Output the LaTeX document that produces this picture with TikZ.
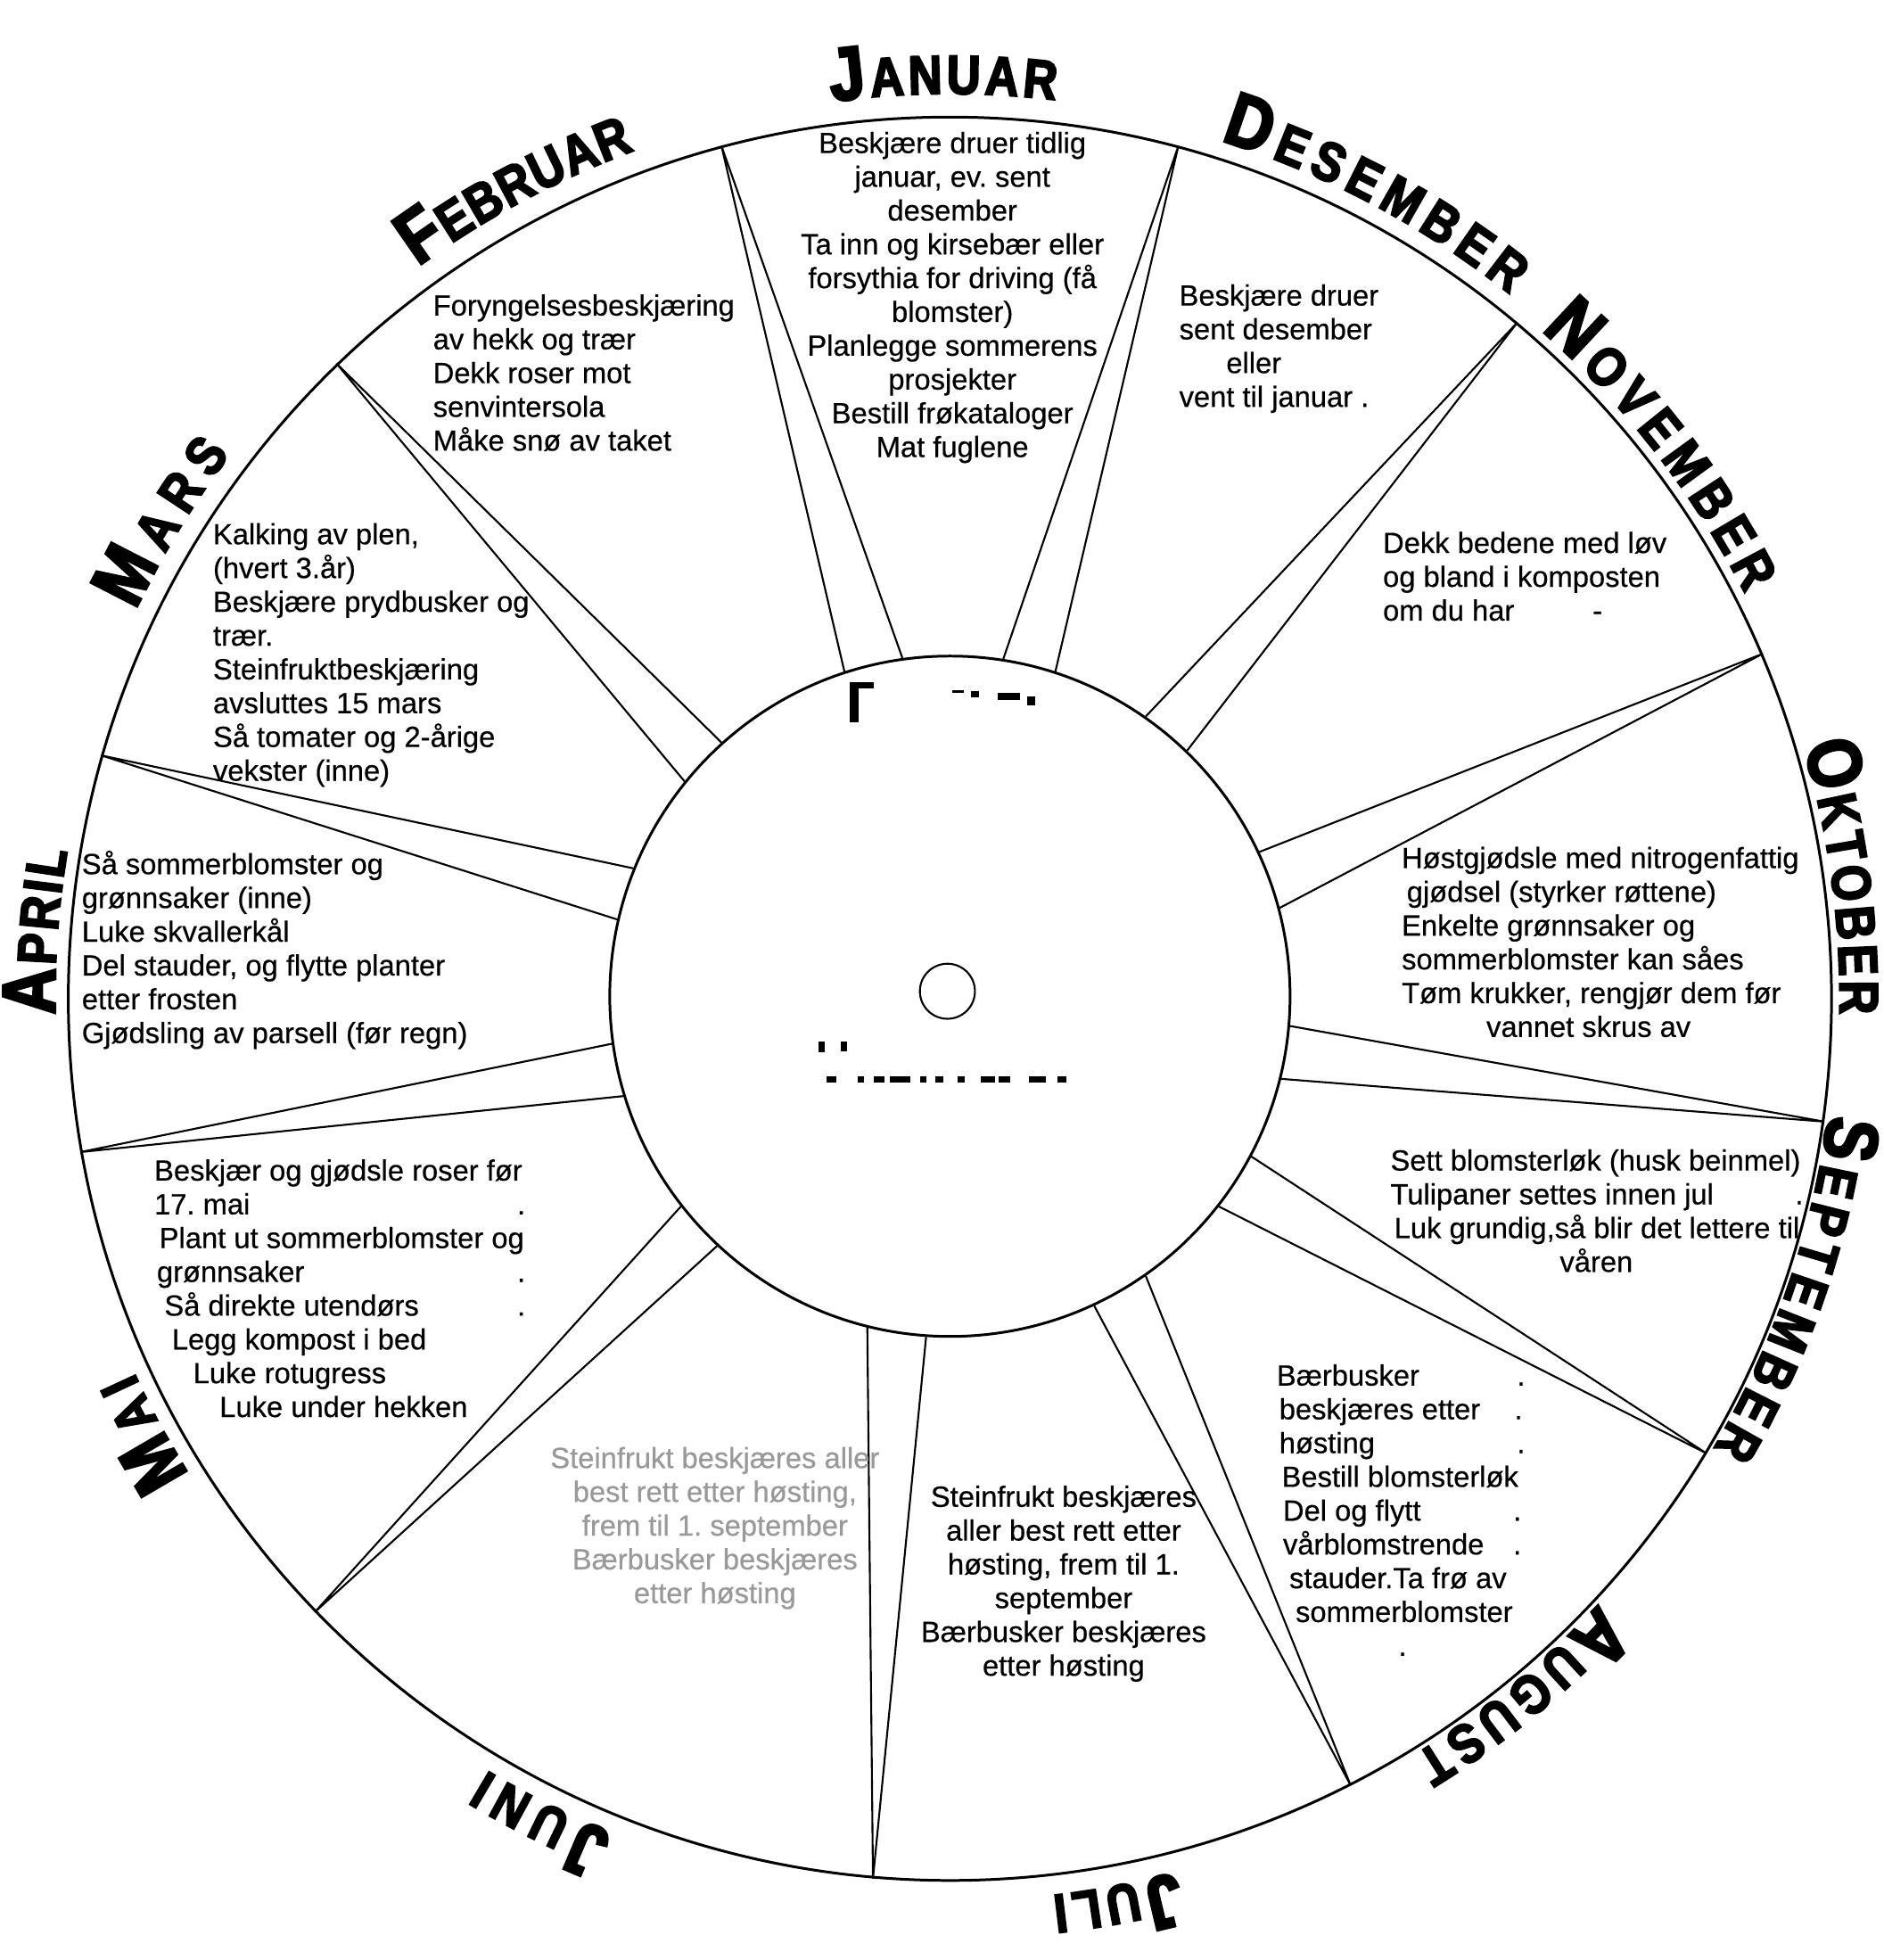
\documentclass[tikz,border=0pt]{standalone}
\usepackage{fontspec}
\setmainfont{Liberation Sans}[FakeBold=0.5]
\newfontfamily\monthfont{Liberation Sans}[FakeStretch=0.85, FakeBold=3.5]
\usetikzlibrary{calc, decorations.text}

\newcommand\tasks{\fontsize{9.3}{10.77}\selectfont\frenchspacing}
\newcommand\capbig{\monthfont\bfseries\fontsize{24}{24}\selectfont}
\newcommand\capsmall{\monthfont\bfseries\fontsize{17.5}{17.5}\selectfont}

\tikzset{
  wheel/.style   = {circle, draw, line width=0.85pt, inner sep=0pt},
  spoke/.style   = {line width=0.6pt},
  task/.style    = {font=\tasks, inner sep=0pt, align=left, anchor=north west},
  taskmid/.style = {task, align=center, anchor=north},
  worn/.style    = {text=black!40},
  month/.style   = {decorate, decoration={text along path, text={#1},
                    text align={fit to path}}},
}

\begin{document}
\begin{tikzpicture}[x=0.014015cm, y=0.014015cm]
  \useasboundingbox (0,0) rectangle (1507,-1568);
  \coordinate (c) at (760,-799);

  %% ---------------- the wheel ----------------
  \node[wheel, minimum size=19.76cm] (rim) at (c) {};
  \node[wheel, minimum size=7.624cm] (hub) at (760,-797) {};
  \node[wheel, minimum size=0.617cm, line width=0.6pt] (axle) at (758,-793) {};

  % each border: angle at the rim / the two angles at the hub
  \foreach \o/\a/\b in {105.1/108.2/98.8, 75.5/81.8/72.9, 50.1/55.4/46.6,
                        23.9/25.2/15.6, -8.1/-5.1/-14.0, -31/-28.6/-38.2,
                        -63.5/-55.4/-65.1, -95.4/-94.5/-104.1,
                        -136.6/-133.8/-142.9, -170.4/-163.1/-172.4,
                        164.2/167.4/158.7, 134.9/141.3/132.5}
    \draw[spoke] (hub.\a) -- (rim.\o) -- (hub.\b);

  % what is left of the worn-off lettering in the hub
  \fill (680,-546) rectangle (687,-578);
  \fill (680,-546) rectangle (699,-551);
  \foreach \xa/\ya/\xb/\yb in {762/552/771/554, 777/553/783/558,
                               798/554/816/560, 822/557/828/564,
                               655/833/660/842, 673/833/678/841}
    \fill (\xa,-\ya) rectangle (\xb,-\yb);
  \foreach \xa/\xb in {661/669, 686/691, 699/708, 712/728, 736/741, 748/755,
                       766/772, 785/796, 799/808, 823/837, 846/853}
    \fill (\xa,-861) rectangle (\xb,-866);

  %% ---------------- month names round the rim ----------------
  % start angle / end angle / radius of the baseline / letters
  \foreach \s/\e/\r/\txt in {
      97.5/83.3/724/{|\capbig|J|\capsmall|ANUAR},
      72.5/51.5/720/{|\capbig|D|\capsmall|ESEMBER},
      48.5/27/714/{|\capbig|N|\capsmall|OVEMBER},
      16.5/-1/712/{|\capbig|O|\capsmall|KTOBER},
      -7.5/-30.5/709/{|\capbig|S|\capsmall|EPTEMBER},
      -43/-58.5/710/{|\capbig|A|\capsmall|UGUST},
      -75.5/-83.5/722/{|\capbig|J|\capsmall|ULI},
      -112/-121/720/{|\capbig|J|\capsmall|UNI},
      -148/-155.4/718/{|\capbig|M|\capsmall|AI},
      181/170.5/716/{|\capbig|A|\capsmall|PRIL},
      154.5/142.9/722/{|\capbig|M|\capsmall|ARS},
      126/110.4/724/{|\capbig|F|\capsmall|EBRUAR}}
    \path[month=\txt] ($(c)+(\s:\r)$)
      arc[start angle=\s, end angle=\e, radius=\r];

  %% ---------------- what to do each month ----------------
  \node[taskmid] (jan) at (762,-105)
       {Beskjære druer tidlig\\januar, ev. sent\\desember\\
        Ta inn og kirsebær eller\\forsythia for driving (få\\blomster)\\
        Planlegge sommerens\\prosjekter\\Bestill frøkataloger\\Mat fuglene};

  \node[task] (feb) at (346,-235)
       {Foryngelsesbeskjæring\\av hekk og trær\\Dekk roser mot\\
        senvintersola\\Måke snø av taket};

  \node[task] (des) at (943,-227)
       {Beskjære druer\\sent desember\\\hspace*{15pt}eller\\vent til januar .};

  \node[task] (nov) at (1106,-425)
       {Dekk bedene med løv\\og bland i komposten\\om du har\hspace{25pt}-};

  \node[task] (mar) at (170,-418)
       {Kalking av plen,\\(hvert 3.år)\\Beskjære prydbusker og\\trær.\\
        Steinfruktbeskjæring\\avsluttes 15 mars\\Så tomater og 2-årige\\
        vekster (inne)};

  \node[task] (apr) at (65,-680)
       {Så sommerblomster og\\grønnsaker (inne)\\Luke skvallerkål\\
        Del stauder, og flytte planter\\etter frosten\\
        Gjødsling av parsell (før regn)};

  \node[task] (okt) at (1121,-677)
       {Høstgjødsle med nitrogenfattig\\\hspace*{1.6pt}gjødsel (styrker røttene)\\
        Enkelte grønnsaker og\\sommerblomster kan såes\\
        Tøm krukker, rengjør dem før\\\hspace*{27pt}vannet skrus av};

  \node[task] (sep) at (1112,-919)
       {Sett blomsterløk (husk beinmel)\\Tulipaner settes innen jul\hspace{26pt}.\\
        \hspace*{1.2pt}Luk grundig,så blir det lettere til\\\hspace*{54pt}våren};

  \node[task] (mai) at (123,-927)
       {Beskjær og gjødsle roser før\\\makebox[115.7pt][l]{17. mai}.\\
        \hspace*{1.6pt}Plant ut sommerblomster og\\
        \hspace*{0.8pt}\makebox[114.9pt][l]{grønnsaker}.\\
        \hspace*{3.2pt}\makebox[112.5pt][l]{Så direkte utendørs}.\\
        \hspace*{5.6pt}Legg kompost i bed\\\hspace*{12.4pt}Luke rotugress\\
        \hspace*{20.8pt}Luke under hekken};

  % this one is half worn off in the original
  \node[taskmid, worn] (jun) at (572,-1157)
       {Steinfrukt beskjæres aller\\best rett etter høsting,\\
        frem til 1. september\\Bærbusker beskjæres\\etter høsting};

  \node[taskmid] (jul) at (851,-1188)
       {Steinfrukt beskjæres\\aller best rett etter\\høsting, frem til 1.\\
        september\\Bærbusker beskjæres\\etter høsting};

  \node[task] (aug) at (1021,-1091)
       {\makebox[76.6pt][l]{Bærbusker}.\\
        \hspace*{0.8pt}\makebox[75pt][l]{beskjæres etter}.\\
        \hspace*{0.8pt}\makebox[75.8pt][l]{høsting}.\\
        \hspace*{1.6pt}Bestill blomsterløk\\
        \hspace*{2pt}\makebox[73.4pt][l]{Del og flytt}.\\
        \hspace*{2pt}\makebox[73.4pt][l]{vårblomstrende}.\\
        \hspace*{4pt}stauder.Ta frø av\\\hspace*{6pt}sommerblomster\\
        \hspace*{38.8pt}.};

\end{tikzpicture}
\end{document}
